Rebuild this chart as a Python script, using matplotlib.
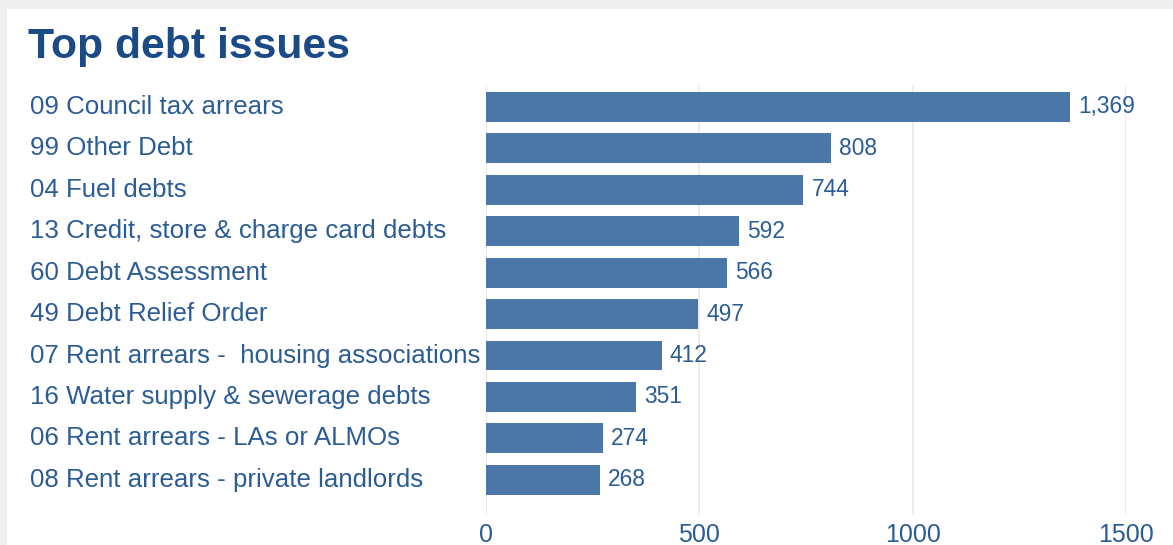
import matplotlib
matplotlib.use("Agg")
import matplotlib.pyplot as plt
import matplotlib.transforms as mtransforms
from matplotlib.patches import Rectangle

# -------------------------
# Data
# -------------------------
issues = [
    "09 Council tax arrears",
    "99 Other Debt",
    "04 Fuel debts",
    "13 Credit, store & charge card debts",
    "60 Debt Assessment",
    "49 Debt Relief Order",
    "07 Rent arrears -  housing associations",
    "16 Water supply & sewerage debts",
    "06 Rent arrears - LAs or ALMOs",
    "08 Rent arrears - private landlords",
]
counts = [1369, 808, 744, 592, 566, 497, 412, 351, 274, 268]
x_ticks = [0, 500, 1000, 1500]

# -------------------------
# Styling
# -------------------------
BAR_COLOR = "#4a77a8"
TEXT_COLOR = "#2b5c96"
TITLE_COLOR = "#1b4a86"
GRID_COLOR = "#e9e9e9"
plt.rcParams["font.family"] = ["Liberation Sans", "DejaVu Sans"]

W, H = 1173, 545
fig = plt.figure(figsize=(W / 100, H / 100), dpi=100)
fig.patch.set_facecolor("#efefef")
# white card behind everything
fig.patches.append(Rectangle((7 / W, 0), 1, 1 - 9 / H, transform=fig.transFigure,
                             facecolor="white", edgecolor="none", zorder=-10))

ax = fig.add_axes([486 / W, 1 - 515 / H, (1126 - 486) / W, (515 - 85) / H])
ax.set_facecolor("none")

pos = list(range(len(issues)))
ax.barh(pos, counts, height=0.72, color=BAR_COLOR, zorder=2)
ax.set_xlim(0, 1500)
ax.set_ylim(9.85, -0.53)

# vertical gridlines
ax.set_xticks(x_ticks)
ax.set_xticklabels([str(t) for t in x_ticks])
ax.grid(axis="x", color=GRID_COLOR, linewidth=1.2, zorder=0)
ax.tick_params(axis="x", length=0, pad=6, labelsize=18, labelcolor=TEXT_COLOR)
ax.set_yticks([])
for s in ax.spines.values():
    s.set_visible(False)

# category labels, left-aligned in the card
trans = mtransforms.blended_transform_factory(fig.transFigure, ax.transData)
for p, name in zip(pos, issues):
    ax.text(30 / W, p, name, transform=trans, ha="left", va="center",
            fontsize=18.6, color=TEXT_COLOR, clip_on=False)

# value labels
for p, v in zip(pos, counts):
    ax.annotate(f"{v:,}", (v, p), xytext=(8, 0), textcoords="offset pixels",
                ha="left", va="center", fontsize=16.4, color=TEXT_COLOR,
                annotation_clip=False)

fig.text(28 / W, 1 - 58 / H, "Top debt issues", ha="left", va="baseline",
         fontsize=30.8, fontweight="bold", color=TITLE_COLOR)

fig.savefig("out.png", dpi=100, facecolor=fig.get_facecolor())
